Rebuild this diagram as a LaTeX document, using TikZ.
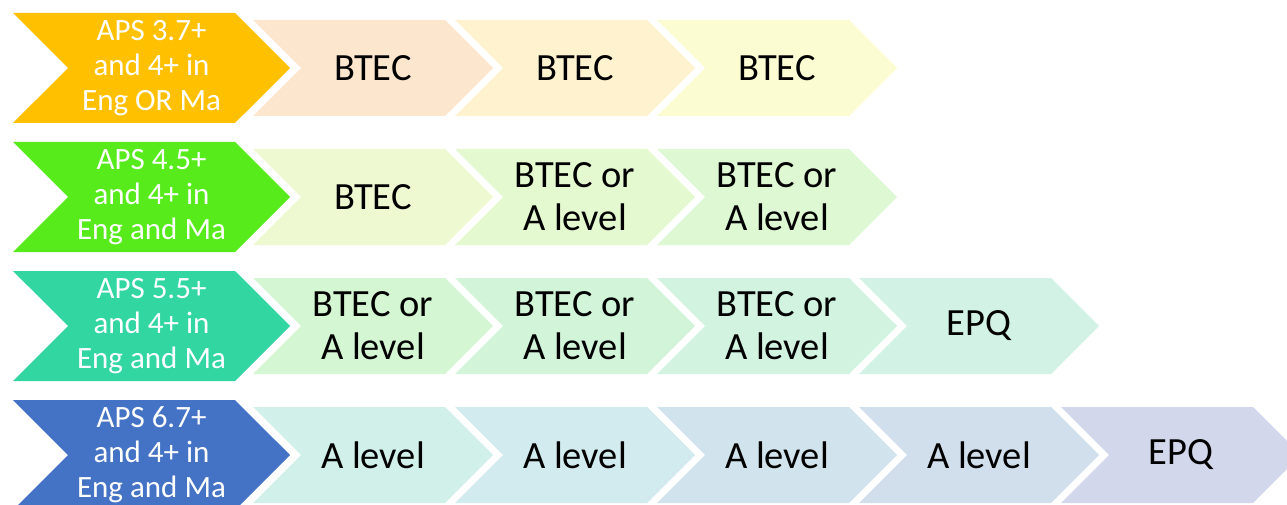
\documentclass[tikz,border=0pt]{standalone}
\usepackage{fontspec}
\setmainfont{Carlito}
\usetikzlibrary{shapes.symbols}

\definecolor{leadA}{HTML}{FFC000}
\definecolor{leadB}{HTML}{57EB1C}
\definecolor{leadC}{HTML}{31D6A0}
\definecolor{leadD}{HTML}{4472C4}
\definecolor{pA1}{HTML}{FDE6CE}
\definecolor{pA2}{HTML}{FEF2CF}
\definecolor{pA3}{HTML}{FBFCD2}
\definecolor{pB1}{HTML}{EEF9D1}
\definecolor{pB2}{HTML}{E5F9D0}
\definecolor{pB3}{HTML}{DDF8D2}
\definecolor{pC1}{HTML}{D5F6D3}
\definecolor{pC2}{HTML}{D2F4D9}
\definecolor{pC3}{HTML}{D1F3DF}
\definecolor{pC4}{HTML}{D1F2E4}
\definecolor{pD1}{HTML}{D1F0E9}
\definecolor{pD2}{HTML}{D2EBEE}
\definecolor{pD3}{HTML}{D1E3EC}
\definecolor{pD4}{HTML}{D1DEEC}
\definecolor{pD5}{HTML}{D3D7EB}

\tikzset{
  chev/.style={signal, signal from=west, signal to=east, signal pointer angle=90,
    inner sep=0pt, align=center},
  lead/.style={chev, minimum width=277pt, minimum height=110pt, text=white,
    font=\fontsize{31}{35}\selectfont},
  stage/.style={chev, minimum width=240pt, minimum height=96pt, text=black,
    font=\fontsize{38.5}{43}\selectfont}
}

\begin{document}
\begin{tikzpicture}[x=1pt, y=-1pt]
    \useasboundingbox (0,0) rectangle (1287,505);
    \clip (0,0) rectangle (1287,505);

    % row 1
    \node[lead, fill=leadA] (apsA) at (151.5,68) {APS 3.7+\\and 4+ in\\Eng OR Ma};
    \node[stage, fill=pA1] (btecA1) at (373,68) {BTEC};
    \node[stage, fill=pA2] (btecA2) at (575,68) {BTEC};
    \node[stage, fill=pA3] (btecA3) at (777,68) {BTEC};

    % row 2
    \node[lead, fill=leadB] (apsB) at (151.5,197) {APS 4.5+\\and 4+ in\\Eng and Ma};
    \node[stage, fill=pB1] (btecB1) at (373,197) {BTEC};
    \node[stage, fill=pB2] (mixB2) at (575,197) {BTEC or\\A level};
    \node[stage, fill=pB3] (mixB3) at (777,197) {BTEC or\\A level};

    % row 3
    \node[lead, fill=leadC] (apsC) at (151.5,326) {APS 5.5+\\and 4+ in\\Eng and Ma};
    \node[stage, fill=pC1] (mixC1) at (373,326) {BTEC or\\A level};
    \node[stage, fill=pC2] (mixC2) at (575,326) {BTEC or\\A level};
    \node[stage, fill=pC3] (mixC3) at (777,326) {BTEC or\\A level};
    \node[stage, fill=pC4] (epqC4) at (979,326) {EPQ};

    % row 4
    \node[lead, fill=leadD] (apsD) at (151.5,455) {APS 6.7+\\and 4+ in\\Eng and Ma};
    \node[stage, fill=pD1] (alevD1) at (373,455) {A level};
    \node[stage, fill=pD2] (alevD2) at (575,455) {A level};
    \node[stage, fill=pD3] (alevD3) at (777,455) {A level};
    \node[stage, fill=pD4] (alevD4) at (979,455) {A level};
    \node[stage, fill=pD5] (epqD5) at (1181,455) {EPQ};
\end{tikzpicture}
\end{document}
